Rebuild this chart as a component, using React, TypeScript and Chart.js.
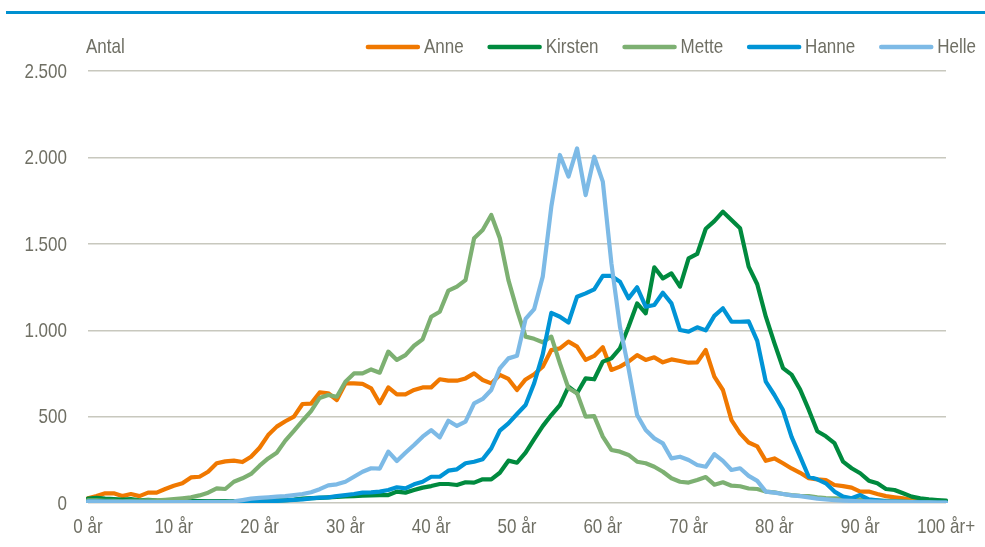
import { useEffect, useRef } from "react";
import { Chart, registerables } from "chart.js";

Chart.register(...registerables);

const FONT = "'Liberation Sans', Arial, sans-serif";
const FONT_SIZE = 21;
const NARROW = 0.81; // reference uses a narrow face
const TEXT_COLOR = "#6f6f64";

// ages 0..100 (category axis)
const categories: number[] = Array.from({ length: 101 }, (_, i) => i);
const xTickLabels = ["0 år", "10 år", "20 år", "30 år", "40 år", "50 år", "60 år", "70 år", "80 år", "90 år", "100 år+"];
const xTickAges = [0, 10, 20, 30, 40, 50, 60, 70, 80, 90, 100];
const yTickLabels = ["0", "500", "1.000", "1.500", "2.000", "2.500"];
const yTickValues = [0, 500, 1000, 1500, 2000, 2500];
const yAxisTitle = "Antal";

const anne = [
  27, 40, 56, 56, 40, 52, 40, 60, 60, 81,
  100, 114, 148, 152, 181, 230, 241, 245, 237, 268,
  320, 393, 442, 473, 500, 573, 575, 640, 635, 596,
  692, 692, 689, 664, 577, 669, 629, 629, 654, 669,
  669, 716, 708, 708, 721, 750, 712, 692, 741, 718,
  654, 715, 745, 789, 885, 895, 934, 905, 828, 851,
  901, 770, 789, 818, 856, 828, 843, 814, 831, 822,
  812, 814, 885, 731, 654, 480, 403, 350, 328, 244,
  258, 230, 200, 175, 143, 137, 133, 104, 98, 89,
  66, 66, 52, 40, 33, 27, 17, 12, 8, 6,
  4,
];

const kirsten = [
  25, 30, 25, 22, 20, 22, 15, 18, 15, 14,
  12, 12, 12, 11, 11, 11, 11, 11, 11, 12,
  12, 13, 15, 17, 20, 25, 28, 30, 33, 35,
  38, 40, 42, 44, 45, 46, 66, 60, 75, 89,
  98, 110, 110, 104, 120, 118, 137, 137, 175, 245,
  233, 292, 370, 445, 509, 567, 673, 635, 721, 716,
  818, 837, 895, 1020, 1155, 1098, 1364, 1300, 1329, 1252,
  1416, 1441, 1587, 1631, 1686, 1638, 1590, 1368, 1266, 1078,
  925, 781, 743, 656, 540, 415, 386, 347, 239, 201,
  172, 129, 114, 81, 75, 56, 37, 27, 21, 17,
  14,
];

const mette = [
  15, 15, 12, 12, 10, 12, 12, 15, 15, 18,
  22, 27, 33, 44, 60, 85, 81, 123, 143, 168,
  216, 258, 291, 361, 417, 476, 532, 608, 625, 615,
  702, 750, 750, 773, 754, 876, 828, 856, 910, 947,
  1078, 1107, 1229, 1252, 1290, 1532, 1580, 1667, 1532, 1290,
  1117, 963, 950, 930, 963, 808, 664, 635, 500, 503,
  384, 307, 297, 278, 239, 230, 210, 181, 143, 123,
  118, 133, 150, 106, 120, 100, 97, 84, 81, 66,
  62, 52, 46, 42, 40, 33, 29, 27, 25, 21,
  19, 17, 15, 13, 11, 9, 7, 5, 4, 3,
  2,
];

const hanne = [
  8, 8, 8, 7, 7, 6, 6, 6, 5, 5,
  5, 5, 5, 5, 5, 5, 5, 5, 6, 7,
  8, 10, 12, 15, 18, 21, 27, 31, 33, 40,
  46, 52, 60, 62, 66, 75, 91, 85, 108, 123,
  152, 152, 187, 195, 230, 239, 253, 316, 419, 461,
  515, 567, 693, 860, 1100, 1078, 1044, 1194, 1213, 1236,
  1314, 1314, 1281, 1184, 1248, 1136, 1146, 1217, 1155, 1001,
  992, 1017, 999, 1083, 1127, 1049, 1049, 1051, 938, 702,
  625, 538, 383, 268, 152, 137, 114, 66, 37, 27,
  46, 21, 15, 10, 8, 6, 5, 4, 3, 2,
  2,
];

const helle = [
  8, 8, 7, 7, 6, 6, 5, 5, 5, 5,
  5, 5, 5, 5, 6, 6, 7, 10, 17, 25,
  30, 33, 37, 40, 46, 52, 62, 80, 102, 108,
  123, 152, 181, 201, 199, 297, 243, 291, 336, 384,
  422, 380, 476, 446, 471, 577, 602, 654, 779, 837,
  852, 1065, 1122, 1310, 1715, 2014, 1889, 2052, 1782, 2004,
  1860, 1387, 1020, 779, 509, 422, 374, 345, 258, 268,
  249, 220, 210, 283, 244, 191, 201, 157, 128, 66,
  60, 52, 44, 40, 33, 25, 21, 17, 14, 12,
  10, 9, 8, 7, 6, 5, 5, 4, 4, 3,
  3,
];

const seriesNames = ["Anne", "Kirsten", "Mette", "Hanne", "Helle"];
const seriesColors = ["#f07800", "#008a3e", "#7db072", "#0094d6", "#7dbae6"];
const seriesData = [anne, kirsten, mette, hanne, helle];

function narrowText(ctx: CanvasRenderingContext2D, text: string, x: number, y: number, align: CanvasTextAlign) {
  ctx.save();
  ctx.translate(x, y);
  ctx.scale(NARROW, 1);
  ctx.textAlign = align;
  ctx.fillText(text, 0, 0);
  ctx.restore();
}

const textPlugin = {
  id: "textPlugin",
  afterDraw(chart: any) {
    const ctx: CanvasRenderingContext2D = chart.ctx;
    const area = chart.chartArea;
    const xs = chart.scales.x;
    const ys = chart.scales.y;
    ctx.save();
    ctx.font = `${FONT_SIZE}px ${FONT}`;
    ctx.fillStyle = TEXT_COLOR;
    ctx.textBaseline = "middle";

    // y tick labels
    yTickValues.forEach((v, i) => {
      narrowText(ctx, yTickLabels[i], area.left - 21, ys.getPixelForValue(v) + 1, "right");
    });
    // x tick labels
    xTickAges.forEach((a, i) => {
      narrowText(ctx, xTickLabels[i], xs.getPixelForValue(a), area.bottom + 24, "center");
    });

    const yMid = 47;
    // axis title
    narrowText(ctx, yAxisTitle, area.left - 2, yMid, "left");

    // legend (right aligned)
    const lineW = 54;
    const gapText = 4;
    const gapItem = 24;
    const items = chart.data.datasets.map((d: any) => ({
      label: d.label,
      color: d.borderColor,
      w: ctx.measureText(d.label).width * NARROW,
    }));
    const total =
      items.reduce((s: number, it: any) => s + lineW + gapText + it.w, 0) + gapItem * (items.length - 1);
    let x = chart.width - 9 - total;
    for (const it of items) {
      ctx.strokeStyle = it.color;
      ctx.lineWidth = 4.5;
      ctx.lineCap = "round";
      ctx.beginPath();
      ctx.moveTo(x + 2, yMid);
      ctx.lineTo(x + lineW - 2, yMid);
      ctx.stroke();
      ctx.fillStyle = TEXT_COLOR;
      narrowText(ctx, it.label, x + lineW + gapText, yMid, "left");
      x += lineW + gapText + it.w + gapItem;
    }
    ctx.restore();
  },
};

function ChartCanvas() {
  const ref = useRef<HTMLCanvasElement | null>(null);
  useEffect(() => {
    if (!ref.current) return;
    const n = seriesNames.length;
    const chart = new Chart(ref.current, {
      type: "line",
      data: {
        labels: categories,
        datasets: seriesNames.map((name, i) => ({
          label: name,
          data: seriesData[i],
          borderColor: seriesColors[i],
          backgroundColor: seriesColors[i],
          borderWidth: 4.2,
          pointRadius: 0,
          pointHoverRadius: 0,
          tension: 0,
          borderJoinStyle: "round" as const,
          borderCapStyle: "round" as const,
          fill: false,
          order: n - 1 - i,
        })),
      },
      options: {
        animation: false,
        responsive: false,
        maintainAspectRatio: false,
        devicePixelRatio: 1,
        layout: { padding: { top: 71, right: 39, left: 0, bottom: 0 } },
        plugins: {
          legend: { display: false },
          title: { display: false },
          tooltip: { enabled: false },
        },
        scales: {
          x: {
            type: "category",
            offset: false,
            grid: { display: false, drawTicks: false },
            border: { display: false },
            ticks: { display: false },
            afterFit: (s: any) => {
              s.height = 44;
            },
          },
          y: {
            min: 0,
            max: 2500,
            grid: { color: "#c8c8be", lineWidth: 1.4, drawTicks: false },
            border: { display: false },
            ticks: { stepSize: 500, display: false },
            afterFit: (s: any) => {
              s.width = 88;
            },
          },
        },
      },
      plugins: [textPlugin],
    });
    return () => chart.destroy();
  }, []);
  return <canvas ref={ref} width={985} height={547} style={{ width: 985, height: 547, display: "block" }} />;
}

export default function App() {
  return (
    <div style={{ position: "absolute", left: 0, top: 0, width: 985, height: 547, background: "#ffffff" }}>
      <div style={{ position: "absolute", left: 6, right: 0, top: 11, height: 3, background: "#0090d0" }} />
      <ChartCanvas />
    </div>
  );
}
